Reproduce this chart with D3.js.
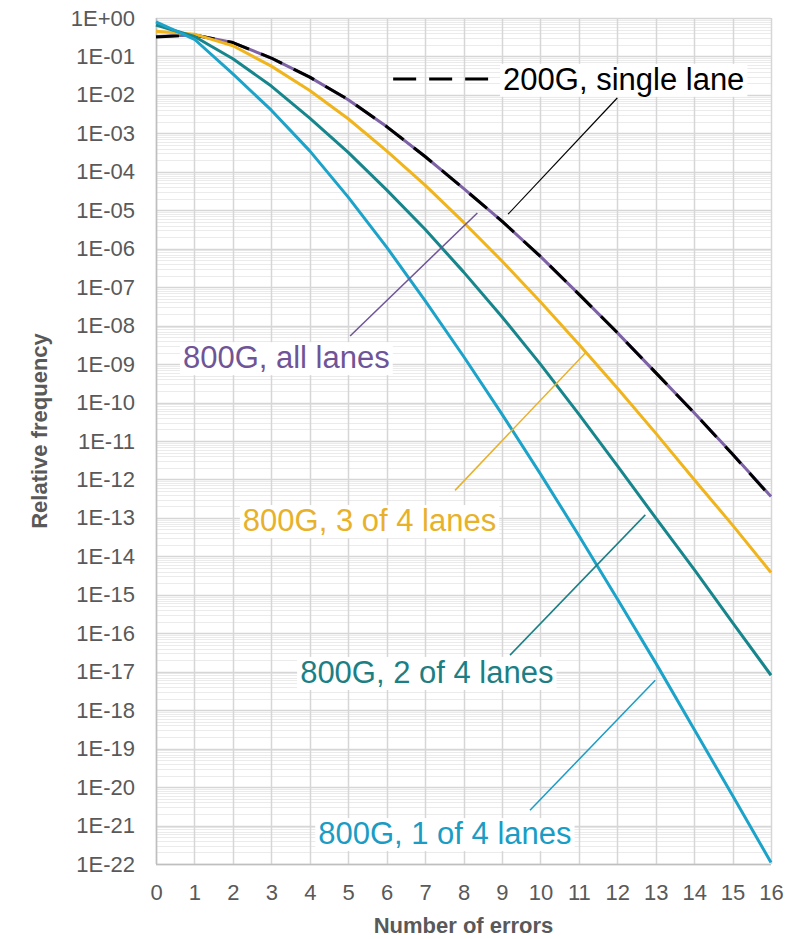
<!DOCTYPE html>
<html lang="en">
<head>
<meta charset="utf-8">
<title>Relative frequency vs number of errors</title>
<script src="https://cdn.jsdelivr.net/npm/d3@7/dist/d3.min.js"></script>
<style>
  body { margin: 0; background: #fff; }
  svg { display: block; font-family: "Liberation Sans", Arial, sans-serif; }
</style>
</head>
<body>
<script>
// x categories: number of errors
var errors = [0, 1, 2, 3, 4, 5, 6, 7, 8, 9, 10, 11, 12, 13, 14, 15, 16];

// y axis decades (powers of ten) and minor multipliers
var decades = [1e0, 1e-1, 1e-2, 1e-3, 1e-4, 1e-5, 1e-6, 1e-7, 1e-8, 1e-9, 1e-10, 1e-11,
  1e-12, 1e-13, 1e-14, 1e-15, 1e-16, 1e-17, 1e-18, 1e-19, 1e-20, 1e-21, 1e-22];
var minorSteps = [2, 3, 4, 5, 6, 7, 8, 9];

// series values
var single200 = [3.2e-1, 3.6e-1, 2.3e-1, 9.1e-2, 2.9e-2, 7.6e-3, 1.5e-3, 2.5e-4, 3.7e-5, 5.2e-6,
  6.3e-7, 6.6e-8, 6.6e-9, 6.0e-10, 5.4e-11, 4.5e-12, 3.5e-13];
var all800 = [3.3e-1, 3.6e-1, 2.3e-1, 9.0e-2, 2.9e-2, 7.5e-3, 1.5e-3, 2.5e-4, 3.7e-5, 5.2e-6,
  6.3e-7, 6.6e-8, 6.6e-9, 6.0e-10, 5.4e-11, 4.6e-12, 3.6e-13];
var three800 = [4.5e-1, 3.8e-1, 1.9e-1, 5.6e-2, 1.3e-2, 2.4e-3, 3.5e-4, 4.5e-5, 4.9e-6, 4.8e-7,
  4.2e-8, 3.3e-9, 2.4e-10, 1.6e-11, 1.0e-12, 6.5e-14, 3.8e-15];
var two800 = [6.6e-1, 3.3e-1, 8.7e-2, 1.7e-2, 2.5e-3, 3.2e-4, 3.4e-5, 3.2e-6, 2.5e-7, 1.7e-8,
  1.0e-9, 5.0e-11, 2.3e-12, 1.0e-13, 4.6e-15, 1.9e-16, 8.1e-18];
var one800 = [7.9e-1, 2.8e-1, 3.5e-2, 4.0e-3, 3.5e-4, 2.2e-5, 1.1e-6, 4.5e-8, 1.6e-9, 5.0e-11,
  1.4e-12, 3.5e-14, 7.9e-16, 1.7e-17, 3.2e-19, 6.0e-21, 1.1e-22];

var series = [
  { name: "800G, all lanes", values: all800, color: "#7d62a6", dash: null },
  { name: "200G, single lane", values: single200, color: "#000000", dash: "23,13" },
  { name: "800G, 3 of 4 lanes", values: three800, color: "#f0b41c", dash: null },
  { name: "800G, 2 of 4 lanes", values: two800, color: "#16868c", dash: null },
  { name: "800G, 1 of 4 lanes", values: one800, color: "#1ca3c9", dash: null }
];

// callout labels: text start (x, y) and leader line from (x1,y1) to (x2,y2), in data units
var callouts = [
  { text: "800G, all lanes", color: "#6f5597", x: 0.70, y: 1.5e-9, x1: 5.05, y1: 5.4e-9, x2: 8.36, y2: 8.5e-6 },
  { text: "800G, 3 of 4 lanes", color: "#e8b12a", x: 2.26, y: 8.7e-14, x1: 7.78, y1: 5.2e-13, x2: 11.17, y2: 1.95e-9 },
  { text: "800G, 2 of 4 lanes", color: "#1c7f85", x: 3.75, y: 9.8e-18, x1: 9.21, y1: 2.7e-17, x2: 12.73, y2: 1.2e-13 },
  { text: "800G, 1 of 4 lanes", color: "#1a9cc4", x: 4.22, y: 6.3e-22, x1: 9.73, y1: 2.5e-21, x2: 12.99, y2: 6.0e-18 }
];
var legendItem = { text: "200G, single lane", x: 9.03, y: 2.6e-2, dashFrom: 6.17, dashTo: 8.64,
  x1: 12.0, y1: 8.3e-3, x2: 9.16, y2: 7.9e-6 };

var W = 802, H = 939;
var plotL = 156, plotR = 771, plotT = 18, plotB = 864;

var svg = d3.select("body").append("svg")
  .attr("width", W)
  .attr("height", H);

var x = d3.scaleLinear().domain([0, 16]).range([plotL, plotR]);
var y = d3.scaleLog().domain([1e-22, 1]).range([plotB, plotT]);

var fmt = function(v) {
  var e = Math.round(Math.log10(v));
  var a = Math.abs(e);
  return "1E" + (e < 0 ? "-" : "+") + (a < 10 ? "0" + a : a);
};

// minor horizontal grid
var minorVals = [];
decades.slice(1).forEach(function(d) {
  minorSteps.forEach(function(m) { minorVals.push(d * m); });
});
svg.append("g").selectAll("line")
  .data(minorVals)
  .enter().append("line")
  .attr("x1", plotL).attr("x2", plotR)
  .attr("y1", function(d) { return Math.round(y(d)) + 0.5; })
  .attr("y2", function(d) { return Math.round(y(d)) + 0.5; })
  .attr("stroke", "#ebebeb")
  .attr("stroke-width", 1);

// major horizontal grid
svg.append("g").selectAll("line")
  .data(decades)
  .enter().append("line")
  .attr("x1", plotL).attr("x2", plotR)
  .attr("y1", function(d) { return Math.round(y(d)) + 0.5; })
  .attr("y2", function(d) { return Math.round(y(d)) + 0.5; })
  .attr("stroke", "#d6d6d6")
  .attr("stroke-width", 1.5);

// vertical grid
svg.append("g").selectAll("line")
  .data(errors)
  .enter().append("line")
  .attr("x1", function(d) { return Math.round(x(d)) + 0.5; })
  .attr("x2", function(d) { return Math.round(x(d)) + 0.5; })
  .attr("y1", plotT).attr("y2", plotB)
  .attr("stroke", "#d6d6d6")
  .attr("stroke-width", 1.5);

// axis lines
svg.append("line")
  .attr("x1", plotL).attr("x2", plotR)
  .attr("y1", plotB + 0.5).attr("y2", plotB + 0.5)
  .attr("stroke", "#bfbfbf").attr("stroke-width", 1.5);
svg.append("line")
  .attr("x1", plotL + 0.5).attr("x2", plotL + 0.5)
  .attr("y1", plotT).attr("y2", plotB)
  .attr("stroke", "#bfbfbf").attr("stroke-width", 1.5);

// axes (labels only)
var yAxis = svg.append("g")
  .attr("transform", "translate(" + plotL + ",0)")
  .call(d3.axisLeft(y).tickValues(decades).tickFormat(fmt).tickSize(0).tickPadding(21));
var xAxis = svg.append("g")
  .attr("transform", "translate(0," + plotB + ")")
  .call(d3.axisBottom(x).tickValues(errors).tickFormat(d3.format("d")).tickSize(0).tickPadding(20));
[yAxis, xAxis].forEach(function(g) {
  g.select(".domain").remove();
  g.selectAll("text")
    .attr("fill", "#595959")
    .style("font-size", "22px")
    .style("font-family", "'Liberation Sans', Arial, sans-serif");
});

// axis titles
svg.append("text")
  .attr("x", (plotL + plotR) / 2)
  .attr("y", 933)
  .attr("text-anchor", "middle")
  .attr("fill", "#595959")
  .style("font-size", "22px")
  .style("font-weight", "bold")
  .text("Number of errors");
svg.append("text")
  .attr("transform", "translate(47,431) rotate(-90)")
  .attr("text-anchor", "middle")
  .attr("fill", "#595959")
  .style("font-size", "22px")
  .style("font-weight", "bold")
  .text("Relative frequency");

// series lines
var line = d3.line()
  .x(function(d, i) { return x(errors[i]); })
  .y(function(d) { return y(d); });

svg.append("g").selectAll("path")
  .data(series)
  .enter().append("path")
  .attr("d", function(s) { return line(s.values); })
  .attr("fill", "none")
  .attr("stroke", function(s) { return s.color; })
  .attr("stroke-width", 3)
  .attr("stroke-linejoin", "round")
  .attr("stroke-dasharray", function(s) { return s.dash; });

// label with white box behind it
function boxedText(g, tx, ty, txt, color) {
  var bg = g.append("rect").attr("fill", "#fff");
  var t = g.append("text")
    .attr("x", tx).attr("y", ty)
    .attr("dy", "0.35em")
    .attr("fill", color)
    .style("font-size", "31px")
    .text(txt);
  var b = t.node().getBBox();
  bg.attr("x", b.x - 3).attr("y", b.y + 2)
    .attr("width", b.width + 6).attr("height", b.height - 2);
}

// leader lines and callouts
var ann = svg.append("g");
callouts.forEach(function(c) {
  ann.append("line")
    .attr("x1", x(c.x1)).attr("y1", y(c.y1))
    .attr("x2", x(c.x2)).attr("y2", y(c.y2))
    .attr("stroke", c.color).attr("stroke-width", 1.5);
  boxedText(ann, x(c.x), y(c.y), c.text, c.color);
});

// legend for the dashed 200G line
ann.append("line")
  .attr("x1", x(legendItem.x1)).attr("y1", y(legendItem.y1))
  .attr("x2", x(legendItem.x2)).attr("y2", y(legendItem.y2))
  .attr("stroke", "#000").attr("stroke-width", 1.2);
ann.append("line")
  .attr("x1", x(legendItem.dashFrom)).attr("x2", x(legendItem.dashTo))
  .attr("y1", y(legendItem.y)).attr("y2", y(legendItem.y))
  .attr("stroke", "#000").attr("stroke-width", 3)
  .attr("stroke-dasharray", "23,13");
boxedText(ann, x(legendItem.x), y(legendItem.y), legendItem.text, "#000");
</script>
</body>
</html>
